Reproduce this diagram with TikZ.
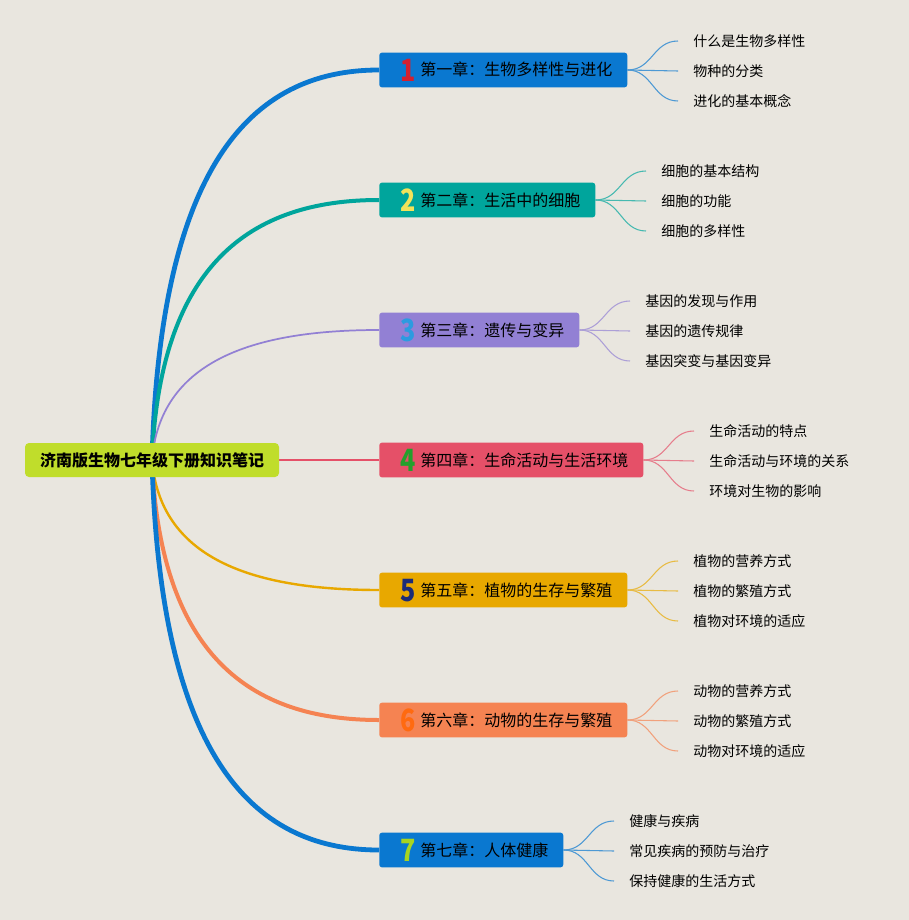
\documentclass[tikz,border=0pt]{standalone}
\usepackage{fontspec}
\setmainfont{Noto Sans CJK SC}
\definecolor{paper}{RGB}{233,230,223}
\definecolor{rootc}{RGB}{192,221,43}
\definecolor{bluec}{RGB}{10,120,208}
\definecolor{tealc}{RGB}{0,165,156}
\definecolor{purplec}{RGB}{146,128,212}
\definecolor{redc}{RGB}{229,80,104}
\definecolor{amberc}{RGB}{232,168,0}
\definecolor{orangec}{RGB}{245,131,82}
\definecolor{numa}{RGB}{212,32,48}
\definecolor{numb}{RGB}{243,227,90}
\definecolor{numc}{RGB}{44,155,224}
\definecolor{numd}{RGB}{36,160,44}
\definecolor{nume}{RGB}{27,44,120}
\definecolor{numf}{RGB}{255,106,16}
\definecolor{numg}{RGB}{168,212,32}
\newcommand{\chapnum}[2]{\hspace{4.5pt}\makebox[12pt][c]{\smash{\raisebox{\dimexpr4.5pt-0.5\height\relax}{\scalebox{0.82}[1]{\fontsize{23}{23}\selectfont\bfseries\textcolor{#1}{#2}}}}}\hspace{3pt}}
\pgfdeclarelayer{paperlayer}
\pgfdeclarelayer{edgelayer}
\pgfsetlayers{paperlayer,edgelayer,main}
\begin{document}
\begin{tikzpicture}[x=0.75pt,y=0.75pt,yscale=-1,xscale=1,
  rootbox/.style={fill=rootc,rounded corners=3pt,minimum height=25.5pt,inner xsep=11.25pt,inner ysep=0pt,font=\fontsize{12}{14}\selectfont\bfseries},
  chapbox/.style={anchor=west,rounded corners=2pt,minimum height=26pt,text height=10.5pt,text depth=1.5pt,inner xsep=11.25pt,inner ysep=0pt,font=\fontsize{12}{14}\selectfont},
  leaf/.style={anchor=west,inner xsep=11.25pt,inner ysep=1pt,font=\fontsize{10.5}{12}\selectfont},
  branch/.style={line width=0.8pt}]
\useasboundingbox (0,0) rectangle (909,920);
\begin{pgfonlayer}{paperlayer}
\fill[paper] (0,0) rectangle (909,920);
\end{pgfonlayer}

% root
\node[rootbox] (root) at (152,460) {济南版生物七年级下册知识笔记};

% chapters
\node[chapbox,fill=bluec] (ch1) at (379,70) {\chapnum{numa}{1}第一章：生物多样性与进化};
\node[chapbox,fill=tealc] (ch2) at (379,200) {\chapnum{numb}{2}第二章：生活中的细胞};
\node[chapbox,fill=purplec] (ch3) at (379,330) {\chapnum{numc}{3}第三章：遗传与变异};
\node[chapbox,fill=redc] (ch4) at (379,460) {\chapnum{numd}{4}第四章：生命活动与生活环境};
\node[chapbox,fill=amberc] (ch5) at (379,590) {\chapnum{nume}{5}第五章：植物的生存与繁殖};
\node[chapbox,fill=orangec] (ch6) at (379,720) {\chapnum{numf}{6}第六章：动物的生存与繁殖};
\node[chapbox,fill=bluec] (ch7) at (379,850) {\chapnum{numg}{7}第七章：人体健康};

% leaves
\node[leaf] (l11) at (678,41) {什么是生物多样性};
\node[leaf] (l12) at (678,71) {物种的分类};
\node[leaf] (l13) at (678,101) {进化的基本概念};
\node[leaf] (l21) at (646,171) {细胞的基本结构};
\node[leaf] (l22) at (646,201) {细胞的功能};
\node[leaf] (l23) at (646,231) {细胞的多样性};
\node[leaf] (l31) at (630,301) {基因的发现与作用};
\node[leaf] (l32) at (630,331) {基因的遗传规律};
\node[leaf] (l33) at (630,361) {基因突变与基因变异};
\node[leaf] (l41) at (694,431) {生命活动的特点};
\node[leaf] (l42) at (694,461) {生命活动与环境的关系};
\node[leaf] (l43) at (694,491) {环境对生物的影响};
\node[leaf] (l51) at (678,561) {植物的营养方式};
\node[leaf] (l52) at (678,591) {植物的繁殖方式};
\node[leaf] (l53) at (678,621) {植物对环境的适应};
\node[leaf] (l61) at (678,691) {动物的营养方式};
\node[leaf] (l62) at (678,721) {动物的繁殖方式};
\node[leaf] (l63) at (678,751) {动物对环境的适应};
\node[leaf] (l71) at (614,821) {健康与疾病};
\node[leaf] (l72) at (614,851) {常见疾病的预防与治疗};
\node[leaf] (l73) at (614,881) {保持健康的生活方式};

\begin{pgfonlayer}{edgelayer}
% root to chapters
\draw[bluec,line width=3.6pt] (root.center) .. controls (160,167.5) and (250,70) .. (ch1.west);
\draw[tealc,line width=3pt] (root.center) .. controls (160,265) and (250,200) .. (ch2.west);
\draw[purplec,line width=1.3pt] (root.center) .. controls (160,362.5) and (250,330) .. (ch3.west);
\draw[redc,line width=1.5pt] (root.center) -- (ch4.west);
\draw[amberc,line width=1.8pt] (root.center) .. controls (160,557.5) and (250,590) .. (ch5.west);
\draw[orangec,line width=3pt] (root.center) .. controls (160,655) and (250,720) .. (ch6.west);
\draw[bluec,line width=3.6pt] (root.center) .. controls (160,752.5) and (250,850) .. (ch7.west);

% chapters to leaves
\foreach \c/\col in {1/bluec,2/tealc,3/purplec,4/redc,5/amberc,6/orangec,7/bluec}
  \foreach \k in {1,2,3}
    \draw[branch,\col!70!paper] (ch\c.east) .. controls +(25,0) and +(-25,0) .. (l\c\k.west);
\end{pgfonlayer}

\end{tikzpicture}
\end{document}
